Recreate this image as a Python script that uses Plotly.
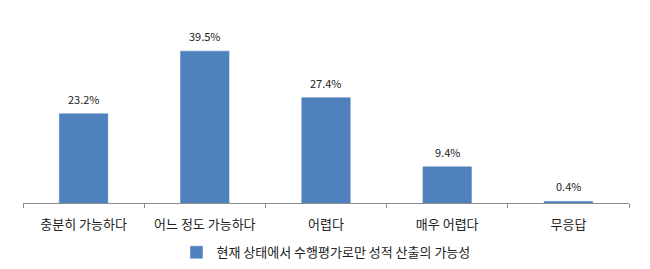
import plotly.graph_objects as go

categories = ["충분히 가능하다", "어느 정도 가능하다", "어렵다", "매우 어렵다", "무응답"]
values = [23.2, 39.5, 27.4, 9.4, 0.4]
labels = ["23.2%", "39.5%", "27.4%", "9.4%", "0.4%"]
series_name = "현재 상태에서 수행평가로만 성적 산출의 가능성"

FONT = "Noto Sans CJK KR"

fig = go.Figure()
fig.add_trace(go.Bar(
    x=categories, y=values, name=series_name,
    marker=dict(color="#4F81BD", line=dict(color="#4A7EBB", width=0.5)),
    showlegend=True,
))
for c, v, t in zip(categories, values, labels):
    fig.add_annotation(x=c, y=v, text=t, showarrow=False, yanchor="bottom",
                       yshift=5, font=dict(family=FONT, size=11, color="#222222"))

fig.update_layout(
    width=650, height=269,
    margin=dict(l=23, r=21, t=30, b=66, autoexpand=False),
    paper_bgcolor="white", plot_bgcolor="white",
    bargap=0.6,
    font=dict(family=FONT, size=13, color="#222222"),
    legend=dict(orientation="h", x=0.5, xanchor="center", y=-0.285, yanchor="middle",
                font=dict(family=FONT, size=13, color="#222222"),
                itemwidth=30, traceorder="normal"),
    xaxis=dict(showline=True, linecolor="#8c8c8c", linewidth=1, ticks="outside",
               tickson="boundaries", ticklen=4, tickcolor="#8c8c8c",
               ticklabelstandoff=9, automargin=False,
               tickfont=dict(family=FONT, size=13, color="#222222"), fixedrange=True),
    yaxis=dict(range=[0, 45], visible=False, showgrid=False, zeroline=False),
)

fig.write_html("out.html")
